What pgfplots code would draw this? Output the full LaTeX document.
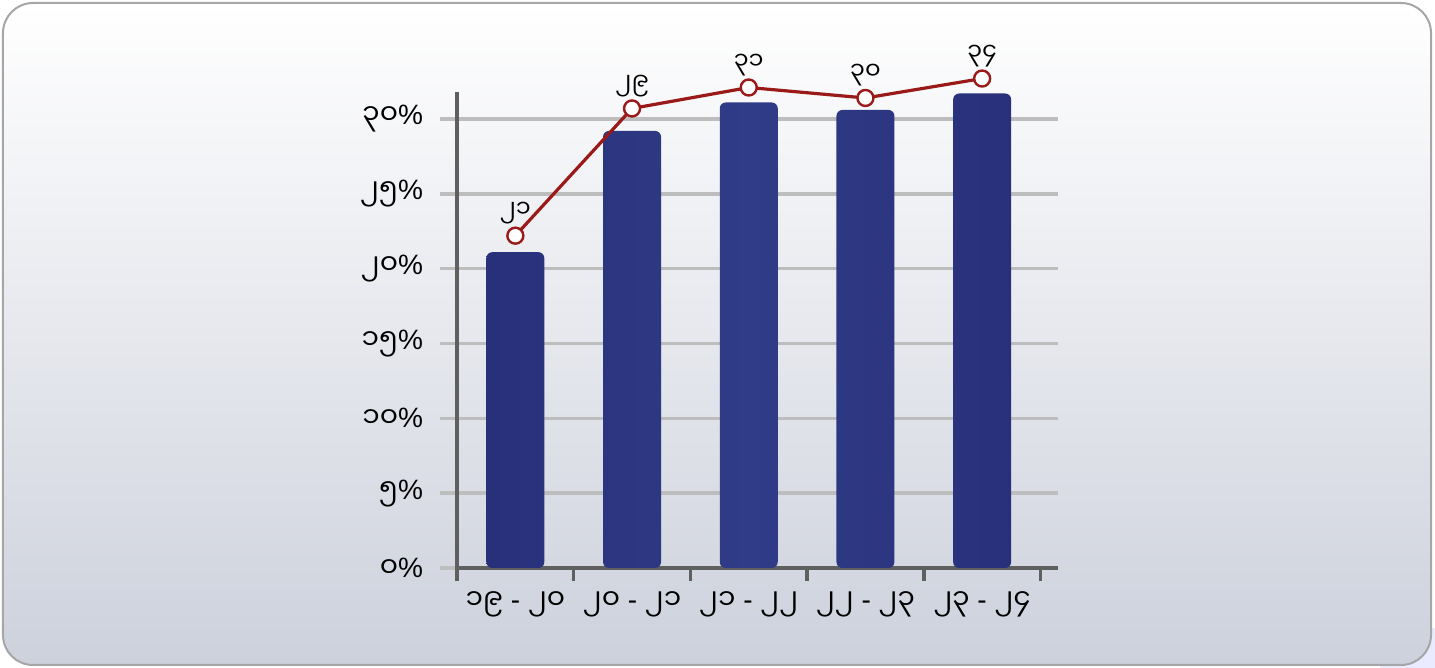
\documentclass[border=0pt]{standalone}
\usepackage{fontspec}
\usepackage{pgfplots}
\pgfplotsset{compat=1.18}
\usetikzlibrary{backgrounds}
\newfontfamily\myan[Script=Myanmar]{Noto Sans Myanmar UI}
\newfontfamily\lat{Liberation Sans}
\newcommand{\pc}{{\lat\%}}
\newcommand{\hy}{{\lat\ -\ }}
\definecolor{barblue}{HTML}{28307A}
\definecolor{barmid}{HTML}{303C88}
\definecolor{linered}{HTML}{9A1A1A}
\definecolor{gridgray}{HTML}{BDBDBD}
\definecolor{axisgray}{HTML}{5F5F5F}
\definecolor{bgbottom}{HTML}{CDD1DC}
\definecolor{bgmid}{HTML}{F7F7F9}

\begin{document}
\begin{tikzpicture}
  \begin{axis}[
      scale only axis,
      width=300.5pt, height=238pt,
      xmin=-0.5, xmax=4.65,
      ymin=0, ymax=31.8,
      axis lines=left,
      axis line style={axisgray, line width=1.8pt, -},
      xtick={0,1,2,3,4},
      xticklabels={{၁၉\hy ၂၀},{၂၀\hy ၂၁},{၂၁\hy ၂၂},{၂၂\hy ၂၃},{၂၃\hy ၂၄}},
      major x tick style={draw=none},
      minor xtick={-0.5,0.5,1.5,2.5,3.5,4.5},
      minor x tick style={axisgray, line width=1.8pt},
      minor tick length=6.5pt,
      xtick align=outside,
      ytick={0,5,10,15,20,25,30},
      yticklabels={၀\pc,၅\pc,၁၀\pc,၁၅\pc,၂၀\pc,၂၅\pc,၃၀\pc},
      ytick align=outside,
      major tick length=8.5pt,
      major y tick style={gridgray, line width=1.8pt},
      ymajorgrids=true,
      grid style={gridgray, line width=1.8pt},
      tick label style={font=\myan\fontsize{14}{16}\selectfont, black},
      xticklabel style={yshift=0pt},
      yticklabel style={xshift=-5pt},
      clip=false,
    ]
    \addplot[ybar, bar width=29pt, draw=none, rounded corners=3pt,
             left color=barblue, right color=barblue, middle color=barmid]
      coordinates {(0,21.1) (1,29.2) (2,31.1) (3,30.6) (4,31.7)};
    \addplot[linered, line width=1.6pt, mark=*, mark size=4pt,
             mark options={fill=white, draw=linered, line width=1.2pt},
             point meta=explicit symbolic,
             nodes near coords,
             every node near coord/.append style={font=\myan\fontsize{12}{14}\selectfont, black, yshift=2pt}]
      coordinates {(0,22.2)[၂၁] (1,30.7)[၂၉] (2,32.1)[၃၁] (3,31.4)[၃၀] (4,32.7)[၃၄]};
    \draw[axisgray, line width=1.8pt] (axis cs:-0.5,0) -- (axis cs:-0.5,-0.6);
    \coordinate (O) at (rel axis cs:0,0);
  \end{axis}
  % page frame, in pixels from the axis corner
  \begin{pgfonlayer}{background}
    \begin{scope}[shift={(O)}, x=0.5pt, y=0.5pt]
      \path[use as bounding box] (-457,-100) rectangle (978,568);
      \fill[blue!8] (923,-100) rectangle (978,-60);
      \draw[gray!70, line width=1pt, rounded corners=15pt, top color=white, middle color=bgmid, bottom color=bgbottom]
        (-454,-97) rectangle (974,565);
    \end{scope}
  \end{pgfonlayer}
\end{tikzpicture}
\end{document}
